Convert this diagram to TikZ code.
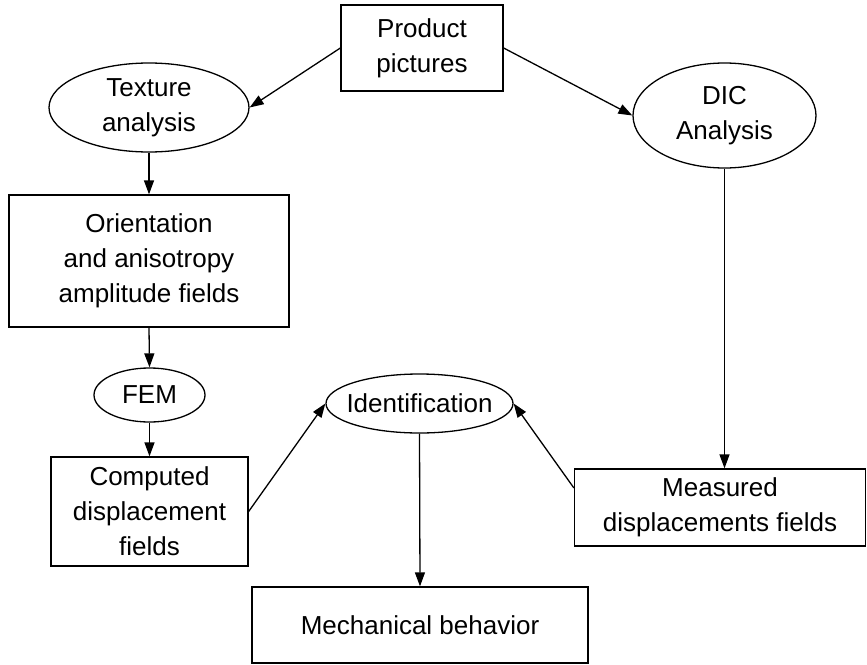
\documentclass[tikz,border=0pt]{standalone}
\usepackage{fontspec}
\setmainfont{Liberation Sans}
\usetikzlibrary{shapes.geometric,arrows.meta,calc}
\begin{document}
\begin{tikzpicture}[x=1pt,y=-1pt,
  every node/.style={font=\fontsize{26pt}{35pt}\selectfont, align=center, inner sep=0pt},
  boxnode/.style={draw, line width=1.3pt, rectangle},
  ellnode/.style={draw, line width=1.3pt, ellipse},
  arr/.style={line width=1.3pt, -{Triangle[length=14pt,width=10pt]}}]
\useasboundingbox (0,0) rectangle (867,664);
\node[boxnode, minimum width=162pt, minimum height=86pt] (prod) at (422,48) {Product\\pictures};
\node[ellnode, minimum width=200pt, minimum height=89pt] (tex) at (149,107.5) {Texture\\analysis};
\node[ellnode, minimum width=183pt, minimum height=105pt] (dic) at (724.5,115.5) {DIC\\Analysis};
\node[boxnode, minimum width=280pt, minimum height=132pt] (orient) at (149,261) {Orientation\\and anisotropy\\amplitude fields};
\node[ellnode, minimum width=111pt, minimum height=54pt] (fem) at (149.5,395) {\makebox[0pt]{FEM}};
\node[boxnode, minimum width=197pt, minimum height=109pt] (comp) at (149.5,511.5) {Computed\\displacement\\fields};
\node[ellnode, minimum width=187pt, minimum height=59pt] (ident) at (419.5,403.5) {\makebox[0pt]{Identification}};
\node[boxnode, minimum width=291pt, minimum height=77pt] (meas) at (720,507.5) {Measured\\displacements fields};
\node[boxnode, minimum width=336pt, minimum height=76pt] (mech) at (420,625) {Mechanical behavior};
\draw[arr] (prod.west) -- (tex.east);
\draw[arr] (prod.east) -- (dic.west);
\draw[arr] (tex.south) -- (orient.north);
\draw[arr] (orient.south) -- (fem.north);
\draw[arr] (fem.south) -- (comp.north);
\draw[arr] (comp.east) -- (ident.west);
\draw[arr] ($(meas.north west)!0.25!(meas.south west)$) -- (ident.east);
\draw[arr] (dic.south) -- (dic.south |- meas.north);
\draw[arr] (ident.south) -- (mech.north);
\end{tikzpicture}
\end{document}
